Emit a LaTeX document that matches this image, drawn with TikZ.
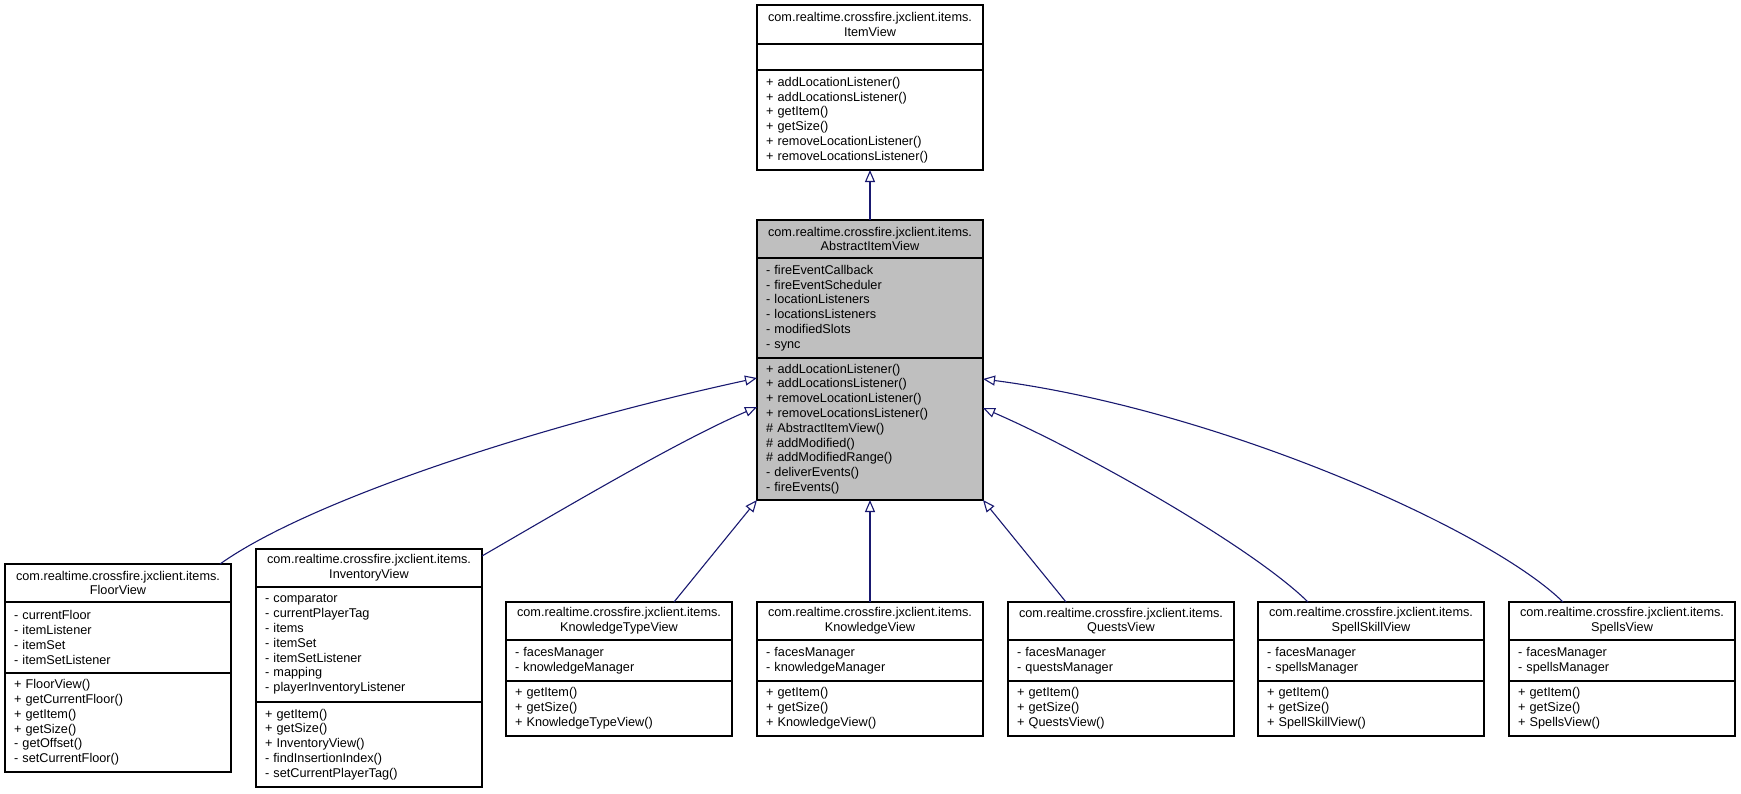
\documentclass[tikz,border=0pt]{standalone}
\usepackage{fontspec}
\setmainfont{Liberation Sans}
\usetikzlibrary{arrows.meta}
\definecolor{edgeblue}{RGB}{25,25,112}
\definecolor{boxgray}{RGB}{191,191,191}
\begin{document}
\begin{tikzpicture}[x=1pt,y=-1pt,
  font=\fontsize{12.7}{14.8}\selectfont,
  box/.style={draw=black, line width=1.1pt, minimum width=226pt, anchor=north west, inner ysep=0pt, outer sep=0pt},
  hdr/.style={box, text width=218pt, inner xsep=4pt, align=center, minimum height=38pt},
  cmp/.style={box, text width=208pt, inner xsep=9pt, align=left},
  abstractfill/.style={fill=boxgray},
  inh/.style={draw=edgeblue, line width=1.1pt, -{Triangle[open,length=12pt,width=10pt]}}]
\useasboundingbox (0,0) rectangle (1741,793);

% ItemView
\node[hdr, minimum height=39pt] (iv-t) at (757,5) {com.realtime.crossfire.jxclient.items.\\ItemView};
\node[cmp, minimum height=26pt] (iv-a) at (iv-t.south west) {};
\node[cmp, minimum height=100pt] (iv-m) at (iv-a.south west) {+ addLocationListener()\\+ addLocationsListener()\\+ getItem()\\+ getSize()\\+ removeLocationListener()\\+ removeLocationsListener()};

% AbstractItemView
\node[hdr, abstractfill] (aiv-t) at (757,220) {com.realtime.crossfire.jxclient.items.\\AbstractItemView};
\node[cmp, abstractfill, minimum height=100pt] (aiv-a) at (aiv-t.south west) {- fireEventCallback\\- fireEventScheduler\\- locationListeners\\- locationsListeners\\- modifiedSlots\\- sync};
\node[cmp, abstractfill, minimum height=142pt] (aiv-m) at (aiv-a.south west) {+ addLocationListener()\\+ addLocationsListener()\\+ removeLocationListener()\\+ removeLocationsListener()\\\# AbstractItemView()\\\# addModified()\\\# addModifiedRange()\\- deliverEvents()\\- fireEvents()};

% FloorView
\node[hdr] (fv-t) at (5,564) {com.realtime.crossfire.jxclient.items.\\FloorView};
\node[cmp, minimum height=71pt] (fv-a) at (fv-t.south west) {- currentFloor\\- itemListener\\- itemSet\\- itemSetListener};
\node[cmp, minimum height=99pt] (fv-m) at (fv-a.south west) {+ FloorView()\\+ getCurrentFloor()\\+ getItem()\\+ getSize()\\- getOffset()\\- setCurrentFloor()};

% InventoryView
\node[hdr] (inv-t) at (256,549) {com.realtime.crossfire.jxclient.items.\\InventoryView};
\node[cmp, minimum height=115pt] (inv-a) at (inv-t.south west) {- comparator\\- currentPlayerTag\\- items\\- itemSet\\- itemSetListener\\- mapping\\- playerInventoryListener};
\node[cmp, minimum height=85pt] (inv-m) at (inv-a.south west) {+ getItem()\\+ getSize()\\+ InventoryView()\\- findInsertionIndex()\\- setCurrentPlayerTag()};

% KnowledgeTypeView
\node[hdr] (ktv-t) at (506,602) {com.realtime.crossfire.jxclient.items.\\KnowledgeTypeView};
\node[cmp, minimum height=41pt] (ktv-a) at (ktv-t.south west) {- facesManager\\- knowledgeManager};
\node[cmp, minimum height=55pt] (ktv-m) at (ktv-a.south west) {+ getItem()\\+ getSize()\\+ KnowledgeTypeView()};

% KnowledgeView
\node[hdr] (kv-t) at (757,602) {com.realtime.crossfire.jxclient.items.\\KnowledgeView};
\node[cmp, minimum height=41pt] (kv-a) at (kv-t.south west) {- facesManager\\- knowledgeManager};
\node[cmp, minimum height=55pt] (kv-m) at (kv-a.south west) {+ getItem()\\+ getSize()\\+ KnowledgeView()};

% QuestsView
\node[hdr] (qv-t) at (1008,602) {com.realtime.crossfire.jxclient.items.\\QuestsView};
\node[cmp, minimum height=41pt] (qv-a) at (qv-t.south west) {- facesManager\\- questsManager};
\node[cmp, minimum height=55pt] (qv-m) at (qv-a.south west) {+ getItem()\\+ getSize()\\+ QuestsView()};

% SpellSkillView
\node[hdr] (ssv-t) at (1258,602) {com.realtime.crossfire.jxclient.items.\\SpellSkillView};
\node[cmp, minimum height=41pt] (ssv-a) at (ssv-t.south west) {- facesManager\\- spellsManager};
\node[cmp, minimum height=55pt] (ssv-m) at (ssv-a.south west) {+ getItem()\\+ getSize()\\+ SpellSkillView()};

% SpellsView
\node[hdr] (sv-t) at (1509,602) {com.realtime.crossfire.jxclient.items.\\SpellsView};
\node[cmp, minimum height=41pt] (sv-a) at (sv-t.south west) {- facesManager\\- spellsManager};
\node[cmp, minimum height=55pt] (sv-m) at (sv-a.south west) {+ getItem()\\+ getSize()\\+ SpellsView()};

% inheritance edges
\draw[inh] (aiv-t.north) -- (iv-m.south);
\draw[inh] ([xshift=-11pt]fv-t.north east) .. controls (310,500) and (540,425) .. ([yshift=-20pt]aiv-m.north west);
\draw[inh] ([yshift=-7pt]inv-t.north east) .. controls (570,505) and (680,440) .. ([yshift=-49pt]aiv-m.north west);
\draw[inh] ([xshift=-58pt]ktv-t.north east) -- (aiv-m.south west);
\draw[inh] (kv-t.north) -- (aiv-m.south);
\draw[inh] ([xshift=58pt]qv-t.north west) -- (aiv-m.south east);
\draw[inh] ([xshift=50pt]ssv-t.north west) .. controls (1250,545) and (1080,450) .. ([yshift=-50pt]aiv-m.north east);
\draw[inh] ([xshift=54pt]sv-t.north west) .. controls (1490,530) and (1220,410) .. ([yshift=-21pt]aiv-m.north east);
\end{tikzpicture}
\end{document}
